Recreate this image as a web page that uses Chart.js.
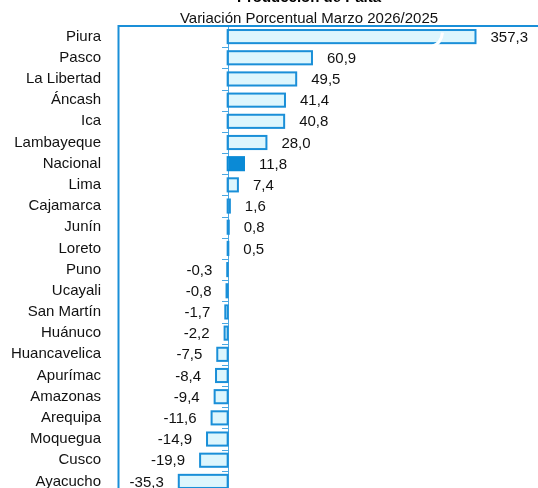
<!DOCTYPE html>
<html>
<head>
<meta charset="utf-8">
<script src="https://cdn.jsdelivr.net/npm/chart.js@4.4.1/dist/chart.umd.min.js"></script>
<style>
  html, body { margin: 0; padding: 0; background: #fff; overflow: hidden; }
  #wrap { position: absolute; left: 0; top: -11px; width: 538px; height: 506px; }
</style>
</head>
<body>
<div id="wrap"><canvas id="c" width="538" height="506"></canvas></div>
<script>
// ---- data ----
const titleText = "Producción de Palta";
const subtitleText = "Variación Porcentual Marzo 2026/2025";
const regions = ["Piura","Pasco","La Libertad","Áncash","Ica","Lambayeque","Nacional","Lima","Cajamarca","Junín","Loreto","Puno","Ucayali","San Martín","Huánuco","Huancavelica","Apurímac","Amazonas","Arequipa","Moquegua","Cusco","Ayacucho"];
const variation = [357.3,60.9,49.5,41.4,40.8,28.0,11.8,7.4,1.6,0.8,0.5,-0.3,-0.8,-1.7,-2.2,-7.5,-8.4,-9.4,-11.6,-14.9,-19.9,-35.3];
const highlight = "Nacional";
const axisBreakAt = 179; // bars longer than this are drawn broken (axis break)

const BLUE = "#1a8fd8";
const LIGHT = "#ddf6fd";
const DARK = "#0a8ad6";

const shown = variation.map(v => Math.min(v, axisBreakAt));
const fmt = v => v.toFixed(1).replace('.', ',');
const edgeColor = r => r === highlight ? DARK : BLUE;

const decor = {
  id: 'decor',
  afterDatasetsDraw(chart) {
    const ctx = chart.ctx, a = chart.chartArea;
    const xs = chart.scales.x;
    const zx = Math.round(xs.getPixelForValue(0));
    const meta = chart.getDatasetMeta(0);
    ctx.save();
    // zero axis + tick marks
    ctx.strokeStyle = "#4aa7e2";
    ctx.lineWidth = 1;
    ctx.beginPath();
    ctx.moveTo(zx + 0.5, a.top); ctx.lineTo(zx + 0.5, a.bottom);
    const n = regions.length, band = (a.bottom - a.top) / n;
    for (let i = 1; i < n; i++) {
      const y = Math.round(a.top + i * band) + 0.5;
      ctx.moveTo(zx - 6, y); ctx.lineTo(zx + 1, y);
    }
    ctx.stroke();
    // bar outlines centred on the bar edges (spreadsheet style)
    ctx.lineWidth = 2;
    meta.data.forEach((b, i) => {
      const p = b.getProps(['x', 'y', 'base', 'height'], true);
      const x0 = Math.min(p.x, p.base), w = Math.abs(p.x - p.base);
      ctx.strokeStyle = edgeColor(regions[i]);
      ctx.strokeRect(x0, p.y - p.height / 2, w, p.height);
    });
    // axis break marks
    variation.forEach((v, i) => {
      if (v > axisBreakAt) {
        const b = meta.data[i];
        ctx.strokeStyle = "#ffffff";
        ctx.lineWidth = 3;
        ctx.beginPath();
        ctx.moveTo(b.x - 44, b.y + 10);
        ctx.quadraticCurveTo(b.x - 34, b.y + 7, b.x - 33, b.y - 4);
        ctx.stroke();
      }
    });
    // plot border (left + top)
    ctx.strokeStyle = BLUE;
    ctx.lineWidth = 2;
    ctx.beginPath();
    ctx.moveTo(chart.width, a.top);
    ctx.lineTo(a.left + 0.5, a.top);
    ctx.lineTo(a.left + 0.5, chart.height);
    ctx.stroke();
    // value labels
    ctx.fillStyle = "#111";
    ctx.font = "15px 'Liberation Sans', Arial, sans-serif";
    ctx.textBaseline = "middle";
    meta.data.forEach((b, i) => {
      const v = variation[i];
      if (v >= 0) {
        ctx.textAlign = "left";
        ctx.fillText(fmt(v), b.x + 15, b.y + 1);
      } else {
        ctx.textAlign = "right";
        ctx.fillText(fmt(v), b.x - 15, b.y + 1);
      }
    });
    ctx.restore();
  }
};

new Chart(document.getElementById('c'), {
  type: 'bar',
  data: {
    labels: regions,
    datasets: [{
      data: shown,
      backgroundColor: regions.map(r => r === highlight ? DARK : LIGHT),
      borderWidth: 0,
      barPercentage: 0.62,
      categoryPercentage: 1.0
    }]
  },
  options: {
    indexAxis: 'y',
    responsive: false,
    animation: false,
    devicePixelRatio: 1,
    layout: { padding: { top: 0, right: 38, bottom: 3, left: 0 } },
    scales: {
      x: {
        display: false,
        min: -79.2,
        max: 196.7
      },
      y: {
        grid: { display: false, drawTicks: false },
        border: { display: false },
        afterFit(s) { s.width = 118; s.paddingTop = 0; s.paddingBottom = 0; },
        ticks: {
          padding: 17,
          color: "#111",
          font: { family: "'Liberation Sans', Arial, sans-serif", size: 15 },
          autoSkip: false
        }
      }
    },
    plugins: {
      legend: { display: false },
      tooltip: { enabled: false },
      title: {
        display: true,
        text: titleText,
        fullSize: false,
        color: "#000",
        font: { family: "'Liberation Sans', Arial, sans-serif", size: 15, weight: 'bold', lineHeight: 1.2 },
        padding: { top: 0, bottom: 0 }
      },
      subtitle: {
        display: true,
        text: subtitleText,
        fullSize: false,
        color: "#111",
        font: { family: "'Liberation Sans', Arial, sans-serif", size: 15, lineHeight: 1.0 },
        padding: { top: 4, bottom: 0 }
      }
    }
  },
  plugins: [decor]
});
</script>
</body>
</html>
